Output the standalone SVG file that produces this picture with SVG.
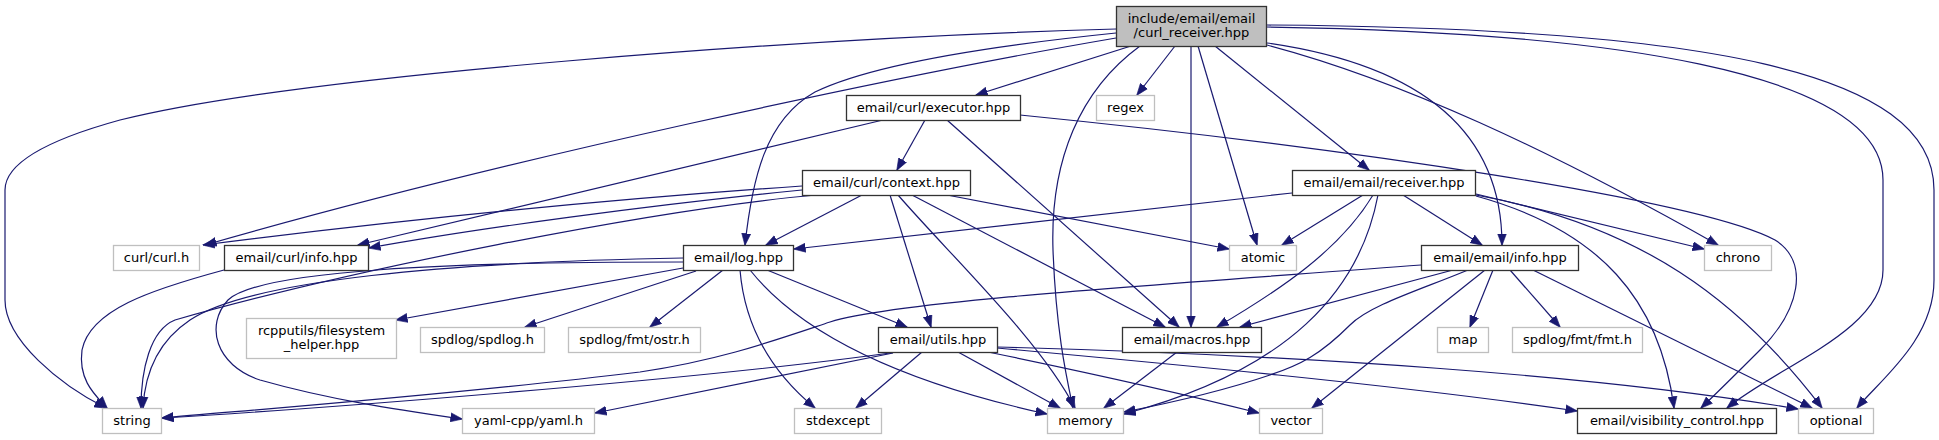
<svg xmlns="http://www.w3.org/2000/svg" width="1939" height="440" viewBox="0 0 1939 440">
<defs>
<marker id="a" markerUnits="userSpaceOnUse" markerWidth="12" markerHeight="10" viewBox="0 0 12 10" refX="11.5" refY="5" orient="auto"><path d="M0,0.5 L12,5 L0,9.5 z" fill="#191970" stroke="#191970" stroke-width="0.6"/></marker>
<style>
.e path{fill:none;stroke:#191970;stroke-width:1.2}
.d rect{fill:#fff;stroke:#333;stroke-width:1.3}
.x rect{fill:#fff;stroke:#bfbfbf;stroke-width:1.3}
.r rect{fill:#bfbfbf;stroke:#333;stroke-width:1.3}
text{font-family:"DejaVu Sans","Liberation Sans",sans-serif;font-size:13px;fill:#000;text-anchor:middle}
</style>
</defs>
<rect width="1939" height="440" fill="#fff"/>
<g class="e" id="edges" marker-end="url(#a)">
<path d="M1116,29 C800,38 300,75 120,120 C40,142 5,165 5,190 L5,300 C5,340 60,385 106,408" marker-end="url(#a)"/>
<path d="M1116,38 C900,75 500,160 205,245" marker-end="url(#a)"/>
<path d="M1131,46 L976,95" marker-end="url(#a)"/>
<path d="M1116,33 C950,50 860,70 815,92 C765,120 752,180 745,245" marker-end="url(#a)"/>
<path d="M1175,46 L1137,95" marker-end="url(#a)"/>
<path d="M1140,46 C1080,90 1050,160 1053,250 C1056,330 1066,375 1073,408" marker-end="url(#a)"/>
<path d="M1191,46 L1191,327" marker-end="url(#a)"/>
<path d="M1198,46 L1257,245" marker-end="url(#a)"/>
<path d="M1215,46 L1369,170" marker-end="url(#a)"/>
<path d="M1267,43 C1420,65 1502,130 1502,245" marker-end="url(#a)"/>
<path d="M1267,45 C1400,80 1550,150 1718,245" marker-end="url(#a)"/>
<path d="M1267,27 C1600,32 1883,70 1883,180 L1883,270 C1883,330 1780,365 1727,408" marker-end="url(#a)"/>
<path d="M1267,25 C1700,28 1934,70 1934,190 L1934,280 C1934,340 1880,380 1857,408" marker-end="url(#a)"/>
<path d="M925,120 L897,170" marker-end="url(#a)"/>
<path d="M883,120 L358,245" marker-end="url(#a)"/>
<path d="M947,120 L1179,327" marker-end="url(#a)"/>
<path d="M1020,115 C1350,148 1700,200 1775,240 C1810,262 1800,310 1760,350 C1740,370 1720,390 1701,408" marker-end="url(#a)"/>
<path d="M802,186 C600,200 400,220 203,245" marker-end="url(#a)"/>
<path d="M802,190 C650,205 480,228 369,248" marker-end="url(#a)"/>
<path d="M816,195 C650,210 350,270 175,320 C150,330 141,370 141,408" marker-end="url(#a)"/>
<path d="M862,195 L766,245" marker-end="url(#a)"/>
<path d="M890,195 L931,327" marker-end="url(#a)"/>
<path d="M898,195 C950,255 1040,340 1075,408" marker-end="url(#a)"/>
<path d="M912,195 L1165,327" marker-end="url(#a)"/>
<path d="M947,195 L1229,249" marker-end="url(#a)"/>
<path d="M767,270 L907,327" marker-end="url(#a)"/>
<path d="M740,270 C745,330 775,375 815,408" marker-end="url(#a)"/>
<path d="M750,270 C790,320 870,375 1047,414" marker-end="url(#a)"/>
<path d="M723,270 L650,327" marker-end="url(#a)"/>
<path d="M696,271 L525,327" marker-end="url(#a)"/>
<path d="M683,268 L396,320" marker-end="url(#a)"/>
<path d="M683,262 C450,262 260,270 228,300 C205,325 215,365 260,380 C330,400 400,410 462,419" marker-end="url(#a)"/>
<path d="M683,258 C450,262 250,280 190,320 C160,340 145,370 143,408" marker-end="url(#a)"/>
<path d="M922,352 L856,408" marker-end="url(#a)"/>
<path d="M958,352 L1060,408" marker-end="url(#a)"/>
<path d="M988,352 C1100,375 1180,393 1259,413" marker-end="url(#a)"/>
<path d="M997,348 C1150,362 1400,385 1577,411" marker-end="url(#a)"/>
<path d="M997,347 C1300,355 1600,375 1798,409" marker-end="url(#a)"/>
<path d="M897,352 C700,380 300,410 162,418" marker-end="url(#a)"/>
<path d="M893,353 L595,413" marker-end="url(#a)"/>
<path d="M1177,352 L1104,408" marker-end="url(#a)"/>
<path d="M1292,193 L794,249" marker-end="url(#a)"/>
<path d="M1363,195 L1282,245" marker-end="url(#a)"/>
<path d="M1373,195 C1340,250 1280,290 1217,327" marker-end="url(#a)"/>
<path d="M1378,195 C1360,290 1290,370 1124,414" marker-end="url(#a)"/>
<path d="M1403,195 L1482,245" marker-end="url(#a)"/>
<path d="M1476,194 L1704,249" marker-end="url(#a)"/>
<path d="M1476,196 C1600,230 1660,300 1674,408" marker-end="url(#a)"/>
<path d="M1476,195 C1640,225 1740,300 1822,408" marker-end="url(#a)"/>
<path d="M1421,265 C1200,282 900,300 830,322 C770,342 720,360 640,372 C450,395 250,410 162,418" marker-end="url(#a)"/>
<path d="M1453,270 L1240,327" marker-end="url(#a)"/>
<path d="M1468,270 C1420,290 1370,305 1350,325 C1320,355 1300,365 1270,375 C1220,392 1170,403 1124,412" marker-end="url(#a)"/>
<path d="M1485,270 L1312,408" marker-end="url(#a)"/>
<path d="M1493,270 L1470,327" marker-end="url(#a)"/>
<path d="M1510,270 L1560,327" marker-end="url(#a)"/>
<path d="M1533,270 L1812,408" marker-end="url(#a)"/>
<path d="M224,270 C150,290 90,310 82,350 C78,380 95,395 107,408" marker-end="url(#a)"/>
</g>
<g id="n_root" class="r"><rect x="1116.5" y="6.5" width="150" height="40"/><text x="1191.5" y="22.5">include/email/email</text><text x="1191.5" y="36.5">/curl_receiver.hpp</text></g>
<g id="n_executor" class="d"><rect x="846.5" y="95.5" width="174" height="25"/><text x="933.5" y="111.5">email/curl/executor.hpp</text></g>
<g id="n_regex" class="x"><rect x="1096.5" y="95.5" width="58" height="25"/><text x="1125.5" y="111.5">regex</text></g>
<g id="n_context" class="d"><rect x="802.5" y="170.5" width="168" height="25"/><text x="886.5" y="186.5">email/curl/context.hpp</text></g>
<g id="n_receiver" class="d"><rect x="1292.5" y="170.5" width="183" height="25"/><text x="1384" y="186.5">email/email/receiver.hpp</text></g>
<g id="n_curlh" class="x"><rect x="113.5" y="245.5" width="86" height="25"/><text x="156.5" y="261.5">curl/curl.h</text></g>
<g id="n_curlinfo" class="d"><rect x="224.5" y="245.5" width="144" height="25"/><text x="296.5" y="261.5">email/curl/info.hpp</text></g>
<g id="n_log" class="d"><rect x="683.5" y="245.5" width="110" height="25"/><text x="738.5" y="261.5">email/log.hpp</text></g>
<g id="n_atomic" class="x"><rect x="1229.5" y="245.5" width="67" height="25"/><text x="1263" y="261.5">atomic</text></g>
<g id="n_emailinfo" class="d"><rect x="1421.5" y="245.5" width="157" height="25"/><text x="1500" y="261.5">email/email/info.hpp</text></g>
<g id="n_chrono" class="x"><rect x="1704.5" y="245.5" width="67" height="25"/><text x="1738" y="261.5">chrono</text></g>
<g id="n_rcp" class="x"><rect x="246.5" y="318.5" width="150" height="40"/><text x="321.5" y="334.5">rcpputils/filesystem</text><text x="321.5" y="348.5">_helper.hpp</text></g>
<g id="n_spdlog" class="x"><rect x="420.5" y="327.5" width="124" height="25"/><text x="482.5" y="343.5">spdlog/spdlog.h</text></g>
<g id="n_ostr" class="x"><rect x="568.5" y="327.5" width="132" height="25"/><text x="634.5" y="343.5">spdlog/fmt/ostr.h</text></g>
<g id="n_utils" class="d"><rect x="878.5" y="327.5" width="119" height="25"/><text x="938" y="343.5">email/utils.hpp</text></g>
<g id="n_macros" class="d"><rect x="1122.5" y="327.5" width="139" height="25"/><text x="1192" y="343.5">email/macros.hpp</text></g>
<g id="n_map" class="x"><rect x="1437.5" y="327.5" width="51" height="25"/><text x="1463" y="343.5">map</text></g>
<g id="n_fmt" class="x"><rect x="1512.5" y="327.5" width="130" height="25"/><text x="1577.5" y="343.5">spdlog/fmt/fmt.h</text></g>
<g id="n_string" class="x"><rect x="102.5" y="408.5" width="59" height="25"/><text x="132" y="424.5">string</text></g>
<g id="n_yaml" class="x"><rect x="462.5" y="408.5" width="132" height="25"/><text x="528.5" y="424.5">yaml-cpp/yaml.h</text></g>
<g id="n_stdexcept" class="x"><rect x="794.5" y="408.5" width="87" height="25"/><text x="838" y="424.5">stdexcept</text></g>
<g id="n_memory" class="x"><rect x="1047.5" y="408.5" width="76" height="25"/><text x="1085.5" y="424.5">memory</text></g>
<g id="n_vector" class="x"><rect x="1259.5" y="408.5" width="63" height="25"/><text x="1291" y="424.5">vector</text></g>
<g id="n_vis" class="d"><rect x="1577.5" y="408.5" width="199" height="25"/><text x="1677" y="424.5">email/visibility_control.hpp</text></g>
<g id="n_optional" class="x"><rect x="1798.5" y="408.5" width="75" height="25"/><text x="1836" y="424.5">optional</text></g>
</svg>
